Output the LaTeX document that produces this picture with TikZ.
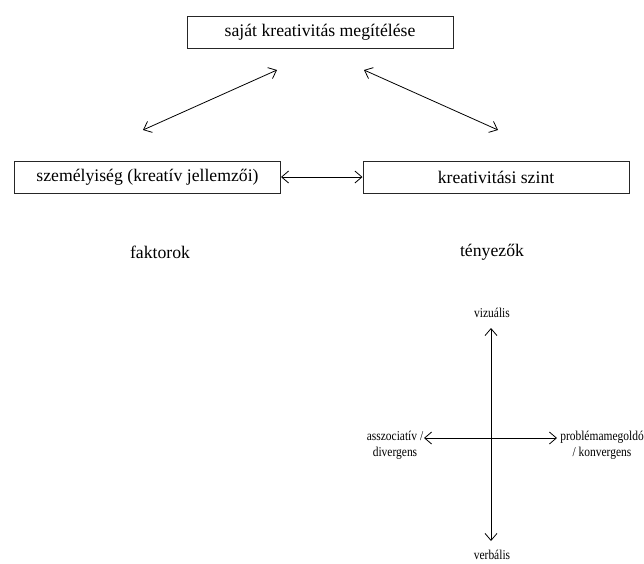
\documentclass[tikz,border=0pt]{standalone}
\usepackage{fontspec}
\setmainfont{Liberation Serif}
\newfontfamily\narrowserif[FakeStretch=0.85]{Liberation Serif}
\usetikzlibrary{arrows.meta}

\begin{document}
\begin{tikzpicture}[x=1pt, y=-1pt,
    box/.style={draw=black!85, line width=1pt, inner sep=0pt,
      minimum width=266pt, minimum height=32pt,
      font=\fontsize{17.7}{20}\selectfont},
    lbl/.style={font=\fontsize{17.7}{20}\selectfont},
    axlbl/.style={font=\narrowserif\fontsize{13.5}{16.5}\selectfont, align=center, inner sep=1pt},
    link/.style={{Straight Barb[length=7pt,width=12pt]}-{Straight Barb[length=7pt,width=12pt]}, line width=0.8pt}]
  \useasboundingbox (0,0) rectangle (644,563);

  % boxes
  \node[box] (onjudge) at (320,32.5) {saját kreativitás megítélése};
  \node[box] (person) at (147.5,177) {személyiség (kreatív jellemzői)};
  \node[box] (level) at (496,177) {kreativitási szint};

  \node[lbl] (factors) at (160,252) {faktorok};
  \node[lbl] (agents) at (492,252) {tényezők};

  % ends of the slanted arrows
  \coordinate (s1) at (143,130);
  \coordinate (s2) at (277,70);
  \coordinate (s3) at (364,70);
  \coordinate (s4) at (498,130);

  \draw[link] (s1) -- (s2);
  \draw[link] (s3) -- (s4);
  \draw[link] (person.east) -- (level.west);

  % the cross
  \coordinate (vtop) at (491,328);
  \coordinate (vbot) at (491,541);
  \coordinate (hleft) at (424,438);
  \coordinate (hright) at (557,438);

  \draw[link] (vtop) -- (vbot);
  \draw[link] (hleft) -- (hright);

  \node[axlbl] (visual) at (492,313) {vizuális};
  \node[axlbl] (verbal) at (492,555) {verbális};
  \node[axlbl] (assoc) at (395,445.5) {asszociatív /\\divergens};
  \node[axlbl] (solver) at (602,445.5) {problémamegoldó\\/ konvergens};
\end{tikzpicture}
\end{document}
